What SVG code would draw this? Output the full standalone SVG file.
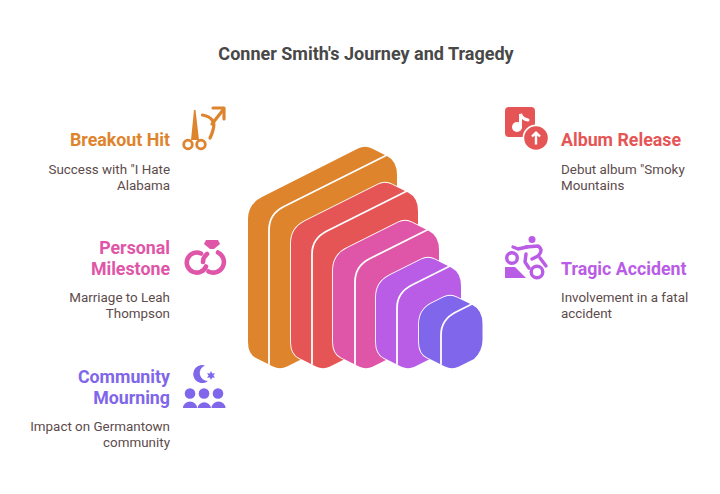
<svg xmlns="http://www.w3.org/2000/svg" width="720" height="494" viewBox="0 0 720 494">
<style>
text{font-family:Roboto,"Liberation Sans",sans-serif}
.t{font-size:18px;font-weight:700;fill:#484848;text-anchor:middle}
.h{font-size:17.8px;font-weight:700}
.b{font-size:13.4px;fill:#5d4b4b}
.e{text-anchor:end}
.s{stroke:#fff;stroke-width:1.8;stroke-linejoin:round;paint-order:stroke}
.f{fill:none;stroke:#fff;stroke-width:1.8;stroke-linecap:round}
.ln{fill:none;stroke-linecap:round;stroke-linejoin:round}
.o{fill:#de842d}.r{fill:#e65555}.p{fill:#df56a8}.u{fill:#b95ce6}.v{fill:#7f66ea}
</style>
<rect width="720" height="494" fill="#fff"/>
<text class="t" x="366" y="60">Conner Smith's Journey and Tragedy</text>
<g id="blocks">
<g id="layer-orange">
<path class="o s" d="M248 219Q248 204 262 197L358 148.500Q365 145 372 148.500L387 156Q397 161 397 175L397 311.500L287 366.500Q280 370 273 366.500L256 358Q248 354 248 342Z"/>
<path class="f" d="M386 155.500L284 206.500Q269 214 269 230L269 364"/>
</g>
<g id="layer-red">
<path class="r s" d="M291 243Q291 228 305 221L378 184.500Q385 181 392 184.500L408 192.500Q418 197.500 418 211L418 322.500L330 366.500Q323 370 316 366.500L299 358Q291 354 291 342Z"/>
<path class="f" d="M406 191.500L327 231Q312 238.500 312 254L312 364"/>
</g>
<g id="layer-pink">
<path class="p s" d="M333 270Q333 255 347 248L398 222.500Q405 219 412 222.500L429 231Q439 236 439 250L439 333.500L373 366.500Q366 370 359 366.500L341 357.500Q333 353.500 333 342Z"/>
<path class="f" d="M427 230L370 258.500Q355 266 355 282L355 364"/>
</g>
<g id="layer-purple">
<path class="u s" d="M376 297Q376 282 390 275L421 259.500Q428 256 435 259.500L451 267.500Q461 272.500 461 286L461 343.500L415 366.500Q408 370 401 366.500L384 358Q376 354 376 342Z"/>
<path class="f" d="M449 266.500L412 285Q397 292.500 397 308L397 364"/>
</g>
<g id="layer-blue">
<path class="v s" d="M419 324Q419 309.500 432 303L443 297.500Q450 294 457 297.500L472.500 305Q482.500 310 482.500 324L482.500 340Q482.500 351 474 359L459 366.500Q452 370 445 366.500L427 357.500Q419 353.500 419 342Z"/>
<path class="f" d="M471 304.500L456 312Q441 319.500 441 335L441 364"/>
</g>
</g>
<g id="node-breakout">
<text class="h e" x="170" y="146" fill="#de842d">Breakout Hit</text>
<text class="b e" x="170" y="174">Success with "I Hate</text>
<text class="b e" x="170" y="190">Alabama</text>
<g stroke="#de842d" fill="none" stroke-width="2.800" stroke-linecap="round" stroke-linejoin="round">
<circle cx="188" cy="144.500" r="4.300"/><circle cx="201" cy="144.500" r="4.300"/>
<path d="M202.500 115Q217 118 213 130Q212 134 210 138" stroke-width="3.200"/><path d="M212 124L223 110" stroke-width="3.200"/><path d="M213 108L224 108L224 119" stroke-width="3.200"/>
</g>
<path fill="#de842d" d="M194 110L195.500 110L199 140L191 140Z"/>
</g>
<g id="node-personal">
<text class="h e" x="170" y="254" fill="#df56a8">Personal</text>
<text class="h e" x="170" y="275" fill="#df56a8">Milestone</text>
<text class="b e" x="170" y="302">Marriage to Leah</text>
<text class="b e" x="170" y="318">Thompson</text>
<g class="ln" stroke="#df56a8" stroke-width="4.600">
<path d="M201 253.500A10 10 0 1 0 206 266.500"/>
<path d="M218 252.500A10.500 10.500 0 1 1 208.500 271.500"/>
<path d="M203 262A10.500 10.500 0 0 1 207 254"/>
</g>
<path fill="#df56a8" d="M206 240L218 240L220 244L214 249L210 249L204 244Z"/>
</g>
<g id="node-community">
<text class="h e" x="170" y="383" fill="#7f66ea">Community</text>
<text class="h e" x="170" y="404" fill="#7f66ea">Mourning</text>
<text class="b e" x="170" y="431">Impact on Germantown</text>
<text class="b e" x="170" y="447">community</text>
<g fill="#7f66ea">
<path d="M205 365.500A9 9 0 1 0 208 381A8 8 0 0 1 205 365.500Z"/>
<path d="M211 371L212.200 373.500L215 373.200L213.400 375.500L215 377.800L212.200 377.500L211 380L209.800 377.500L207 377.800L208.600 375.500L207 373.200L209.800 373.500Z"/>
<circle cx="190" cy="393.500" r="5.300"/><circle cx="204" cy="393.500" r="5.300"/><circle cx="218" cy="393.500" r="5.300"/>
<path d="M183 408A7 6.500 0 0 1 197 408Z"/><path d="M197.500 408A6.800 6.500 0 0 1 211 408Z"/><path d="M211.500 408A7 6.500 0 0 1 225.500 408Z"/>
</g>
</g>
<g id="node-album">
<text class="h" x="561" y="146" fill="#e65555">Album Release</text>
<text class="b" x="561" y="174">Debut album "Smoky</text>
<text class="b" x="561" y="190">Mountains</text>
<rect x="505" y="107" width="30" height="30" rx="4" fill="#e65555"/>
<circle cx="517" cy="127" r="5" fill="#fff"/>
<path d="M520.500 127L520.500 114Q522 119 528 120" fill="none" stroke="#fff" stroke-width="3" stroke-linecap="round"/>
<circle cx="536" cy="138" r="13.500" fill="#fff"/><circle cx="536" cy="138" r="11.800" fill="#e65555"/>
<path d="M536 144.500L536 133M532 136.500L536 132.500L540 136.500" fill="none" stroke="#fff" stroke-width="2.400" stroke-linejoin="round"/>
</g>
<g id="node-accident">
<text class="h" x="561" y="275" fill="#b95ce6">Tragic Accident</text>
<text class="b" x="561" y="302">Involvement in a fatal</text>
<text class="b" x="561" y="318">accident</text>
<circle cx="532" cy="239.500" r="3.500" fill="#b95ce6"/>
<path fill="#b95ce6" d="M505 267L515 267L526 278L505 278Z"/>
<g fill="none" stroke="#b95ce6" stroke-width="3.400" stroke-linecap="round" stroke-linejoin="round">
<circle cx="512" cy="258" r="5.300"/><circle cx="537" cy="272" r="5.800"/>
<path d="M513 247L518 249L527 247"/><path d="M526 247L538 246Q544 250 538 256L532 259"/><path d="M526 254L525 262L529 268"/><path d="M540 258L546 266"/>
</g>
</g>
</svg>
